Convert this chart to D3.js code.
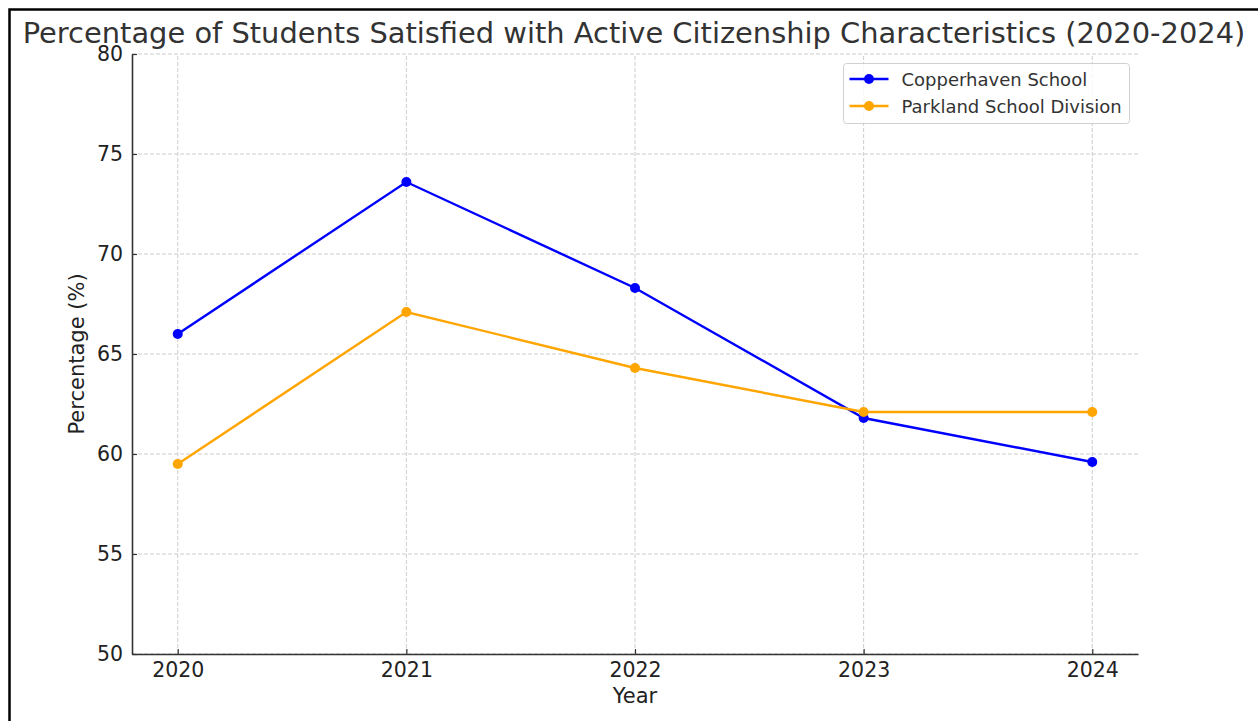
<!DOCTYPE html>
<html>
<head>
<meta charset="utf-8">
<script src="https://cdn.jsdelivr.net/npm/d3@7"></script>
<style>
  html, body { margin: 0; padding: 0; background: #fff; }
  svg { display: block; font-family: "DejaVu Sans", sans-serif; }
</style>
</head>
<body>
<svg id="chart" width="1258" height="721"></svg>
<script>
  // Chart data
  const years = [2020, 2021, 2022, 2023, 2024];
  const copperhaven = [66.0, 73.6, 68.3, 61.8, 59.6];
  const parkland = [59.5, 67.1, 64.3, 62.1, 62.1];
  const seriesNames = ['Copperhaven School', 'Parkland School Division'];
  const seriesColors = ['#0000ff', '#ffa500'];
  const yTicks = [50, 55, 60, 65, 70, 75, 80];

  const W = 1258, H = 721;
  const margin = { left: 132, right: 120, top: 54, bottom: 67 };

  const svg = d3.select('#chart');

  // figure frame
  svg.append('rect')
    .attr('x', 9.5).attr('y', 9.5)
    .attr('width', W).attr('height', H)
    .attr('fill', 'none')
    .attr('stroke', '#000')
    .attr('stroke-width', 2.5);

  const x = d3.scaleLinear()
    .domain([2019.8, 2024.2])
    .range([margin.left, W - margin.right]);

  const y = d3.scaleLinear()
    .domain([50, 80])
    .range([H - margin.bottom, margin.top]);

  // grid
  const grid = svg.append('g').attr('class', 'grid');
  grid.selectAll('line.h')
    .data(yTicks)
    .enter().append('line')
    .attr('class', 'h')
    .attr('x1', x.range()[0]).attr('x2', x.range()[1])
    .attr('y1', d => y(d)).attr('y2', d => y(d))
    .attr('stroke', '#cccccc')
    .attr('stroke-width', 1)
    .attr('stroke-dasharray', '4,2');
  grid.selectAll('line.v')
    .data(years)
    .enter().append('line')
    .attr('class', 'v')
    .attr('x1', d => x(d)).attr('x2', d => x(d))
    .attr('y1', y.range()[0]).attr('y2', y.range()[1])
    .attr('stroke', '#cccccc')
    .attr('stroke-width', 1)
    .attr('stroke-dasharray', '4,2');

  // axes (ticks point inward, like the original)
  const xAxis = svg.append('g')
    .attr('transform', `translate(0,${y(50)})`)
    .call(d3.axisBottom(x).tickValues(years).tickFormat(d3.format('d')).tickSize(-5).tickSizeOuter(0));
  const yAxis = svg.append('g')
    .attr('transform', `translate(${x(2019.8)},0)`)
    .call(d3.axisLeft(y).tickValues(yTicks).tickSize(-5).tickSizeOuter(0));

  [xAxis, yAxis].forEach(a => {
    a.select('.domain').attr('stroke', '#333').attr('stroke-width', 1.6);
    a.selectAll('.tick line').attr('stroke', '#333').attr('stroke-width', 1.2);
    a.selectAll('.tick text')
      .attr('fill', '#222')
      .style('font-size', '20.5px')
      .style('font-family', '"DejaVu Sans", sans-serif');
  });
  xAxis.selectAll('.tick text').attr('y', 23).attr('dy', 0);
  yAxis.selectAll('.tick text').attr('x', -9);

  // lines and markers
  const allSeries = [copperhaven, parkland];
  const line = d3.line()
    .x((d, i) => x(years[i]))
    .y(d => y(d));

  allSeries.forEach((vals, s) => {
    svg.append('path')
      .datum(vals)
      .attr('d', line)
      .attr('fill', 'none')
      .attr('stroke', seriesColors[s])
      .attr('stroke-width', 2.4);
    svg.append('g').selectAll('circle')
      .data(vals)
      .enter().append('circle')
      .attr('cx', (d, i) => x(years[i]))
      .attr('cy', d => y(d))
      .attr('r', 5)
      .attr('fill', seriesColors[s]);
  });

  // titles
  svg.append('text')
    .attr('x', 634).attr('y', 43)
    .attr('text-anchor', 'middle')
    .attr('fill', '#333')
    .style('font-size', '28.9px')
    .text('Percentage of Students Satisfied with Active Citizenship Characteristics (2020-2024)');

  svg.append('text')
    .attr('x', (x.range()[0] + x.range()[1]) / 2).attr('y', 703)
    .attr('text-anchor', 'middle')
    .attr('fill', '#222')
    .style('font-size', '21px')
    .text('Year');

  svg.append('text')
    .attr('transform', `translate(84,${(y.range()[0] + y.range()[1]) / 2}) rotate(-90)`)
    .attr('text-anchor', 'middle')
    .attr('fill', '#222')
    .style('font-size', '21px')
    .text('Percentage (%)');

  // legend
  const legend = svg.append('g').attr('transform', 'translate(843.5,63.5)');
  legend.append('rect')
    .attr('width', 286).attr('height', 60)
    .attr('rx', 3)
    .attr('fill', '#fff')
    .attr('fill-opacity', 0.8)
    .attr('stroke', '#d0d0d0')
    .attr('stroke-width', 1);
  seriesNames.forEach((name, i) => {
    const row = legend.append('g').attr('transform', `translate(0,${15.5 + i * 27})`);
    row.append('line')
      .attr('x1', 6).attr('x2', 45)
      .attr('stroke', seriesColors[i])
      .attr('stroke-width', 2.4);
    row.append('circle')
      .attr('cx', 25.5).attr('r', 5)
      .attr('fill', seriesColors[i]);
    row.append('text')
      .attr('x', 58).attr('y', 6.5)
      .attr('fill', '#333')
      .style('font-size', '18px')
      .text(name);
  });
</script>
</body>
</html>
